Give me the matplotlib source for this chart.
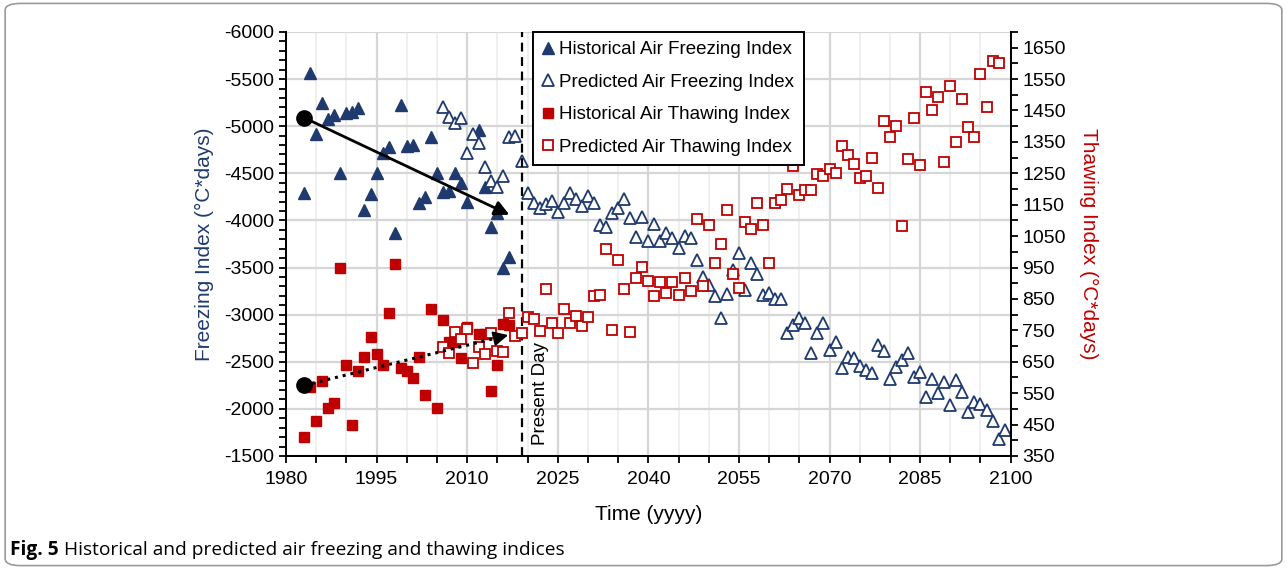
import matplotlib
matplotlib.use("Agg")
from matplotlib import pyplot as plt
from matplotlib.lines import Line2D
from matplotlib.patches import FancyBboxPatch
from matplotlib.ticker import MultipleLocator, FixedLocator

plt.rcParams['font.family'] = ['Liberation Sans', 'DejaVu Sans']
plt.rcParams['axes.unicode_minus'] = False

NAVY = '#1F3A6E'
RED = '#C00000'

# historical record (1983-2017)
hist_fi_years = [1983, 1984, 1985, 1986, 1987, 1988, 1989, 1990, 1991, 1992,
                 1993, 1994, 1995, 1996, 1997, 1998, 1999, 2000, 2001, 2002,
                 2003, 2004, 2005, 2006, 2007, 2008, 2009, 2010, 2012, 2013,
                 2014, 2015, 2016, 2017]
hist_fi = [-4289, -5568, -4918, -5250, -5074, -5119, -4500, -5137, -5154, -5190,
           -4111, -4281, -4507, -4713, -4777, -3864, -5222, -4790, -4801, -4183,
           -4253, -4883, -4500, -4302, -4310, -4500, -4401, -4200, -4960, -4359,
           -3934, -4076, -3493, -3616]

hist_ti_years = [1983, 1984, 1985, 1986, 1987, 1988, 1989, 1990, 1991, 1992,
                 1993, 1994, 1995, 1996, 1997, 1998, 1999, 2000, 2001, 2002,
                 2003, 2004, 2005, 2006, 2007, 2008, 2009, 2010, 2012, 2013,
                 2014, 2015, 2016, 2017]
hist_ti = [410, 571, 461, 588, 502, 518, 948, 639, 449, 620,
           664, 728, 674, 639, 804, 960, 629, 621, 598, 666,
           544, 817, 502, 783, 714, 712, 662, 760, 737, 737,
           557, 640, 770, 767]

# model predictions
pred_fi_years = list(range(2006, 2100))
pred_fi = [-5201, -5095, -5038, -5084, -4713, -4918, -4819, -4571, -4422, -4359,
           -4472, -4889, -4897, -4631, -4295, -4182, -4129, -4172, -4210, -4093,
           -4182, -4288, -4228, -4154, -4260, -4189, -3952, -3934, -4076, -4129,
           -4225, -4023, -3828, -4041, -3786, -3963, -3786, -3864, -3811, -3705,
           -3836, -3811, -3581, -3404, -3316, -3202, -2962, -3220, -3475, -3658,
           -3263, -3546, -3432, -3210, -3234, -3164, -3170, -2810, -2891, -2962,
           -2916, -2591, -2810, -2910, -2626, -2714, -2438, -2555, -2538, -2456,
           -2414, -2385, -2679, -2619, -2315, -2442, -2520, -2591, -2343, -2393,
           -2124, -2315, -2166, -2290, -2042, -2307, -2183, -1971, -2077, -2053,
           -1989, -1873, -1678, -1777]

pred_ti_years = list(range(2006, 2099))
pred_ti = [698, 679, 746, 722, 753, 647, 698, 674, 741, 685,
           682, 804, 732, 741, 793, 785, 749, 881, 774, 741,
           818, 773, 796, 764, 792, 860, 863, 1008, 751, 974,
           881, 746, 916, 953, 908, 860, 903, 870, 903, 863,
           918, 875, 1105, 892, 1086, 964, 1024, 1133, 929, 886,
           1096, 1073, 1157, 1086, 965, 1157, 1165, 1200, 1274, 1181,
           1197, 1197, 1247, 1243, 1264, 1250, 1337, 1308, 1280, 1234,
           1242, 1300, 1202, 1418, 1365, 1402, 1083, 1295, 1427, 1277,
           1508, 1452, 1492, 1287, 1528, 1349, 1487, 1397, 1365, 1566,
           1462, 1609, 1600]

present_day = 2019
fi_trend = [(1983, -5090), (2017, -4060)]
ti_trend = [(1983, 575), (2016.8, 735)]

fig = plt.figure(figsize=(12.87, 5.69), dpi=100)
ax = fig.add_axes([0.2222, 0.1986, 0.5631, 0.7452])
ax2 = ax.twinx()

# axes setup
ax.set_xlim(1980, 2100)
ax.set_ylim(-1500, -6000)
ax2.set_ylim(350, 1700)
ax.xaxis.set_major_locator(MultipleLocator(15))
ax.xaxis.set_minor_locator(MultipleLocator(5))
ax.yaxis.set_major_locator(MultipleLocator(500))
ax.yaxis.set_minor_locator(MultipleLocator(100))
ax2.yaxis.set_major_locator(FixedLocator(list(range(350, 1701, 100))))
ax2.yaxis.set_minor_locator(MultipleLocator(50))

ax.grid(which='major', axis='both', color='#D6D6D6', lw=1.6, zorder=0)
ax.grid(which='minor', axis='x', color='#ECECEC', lw=1.2, zorder=0)
ax.set_axisbelow(True)

for a in (ax, ax2):
    a.spines['top'].set_visible(False)
    for s in ('left', 'right', 'bottom'):
        a.spines[s].set_linewidth(1.4)
    a.tick_params(which='both', direction='out', length=5, width=1.3, labelsize=14)
ax.tick_params(axis='x', pad=6)

ax.set_xlabel('Time (yyyy)', fontsize=15, labelpad=12)
ax.set_ylabel('Freezing Index (°C*days)', fontsize=15, color=NAVY, labelpad=7)
ax2.set_ylabel('Thawing Index (°C*days)', fontsize=15, color=RED, rotation=270,
               va='bottom', labelpad=9)

# freezing index series
ax.plot(hist_fi_years, hist_fi, ls='none', marker='^', ms=8.5, color=NAVY,
        mec=NAVY, zorder=3)
ax.plot(pred_fi_years, pred_fi, ls='none', marker='^', ms=8.5, mfc='white',
        mec=NAVY, mew=1.3, zorder=3)

# thawing index series
ax2.plot(hist_ti_years, hist_ti, ls='none', marker='s', ms=7, color=RED,
         mec=RED, zorder=3)
ax2.plot(pred_ti_years, pred_ti, ls='none', marker='s', ms=7, mfc='white',
         mec=RED, mew=1.3, zorder=3)

# present day marker
ax.axvline(present_day, color='black', lw=1.6, ls=(0, (4, 2.5)), zorder=4)
ax.text(present_day + 3.2, -1620, 'Present Day', rotation=90, ha='center',
        va='bottom', fontsize=13.5, zorder=5)

# trend arrows
(x0, y0), (x1, y1) = fi_trend
ax2.annotate('', xy=(x1, 1700 - (y1 + 6000) * 0.3), xytext=(x0, 1700 - (y0 + 6000) * 0.3),
             arrowprops=dict(arrowstyle='-|>', color='black', lw=2,
                             mutation_scale=22, shrinkA=0, shrinkB=0), zorder=6)
ax2.plot([x0], [1700 - (y0 + 6000) * 0.3], 'o', color='black', ms=11, zorder=6)

(u0, v0), (u1, v1) = ti_trend
ax2.plot([u0, u1 - 1.2], [v0, v1 - 1.2 * (v1 - v0) / (u1 - u0)], color='black',
         lw=2.2, ls=(0, (1, 1.6)), zorder=6)
ax2.annotate('', xy=(u1, v1), xytext=(u1 - 2, v1 - 2 * (v1 - v0) / (u1 - u0)),
             arrowprops=dict(arrowstyle='-|>', color='black', lw=1.5,
                             mutation_scale=22, shrinkA=0, shrinkB=0), zorder=6)
ax2.plot([u0], [v0], 'o', color='black', ms=11, zorder=6)

# legend
handles = [
    Line2D([], [], ls='none', marker='^', ms=8, color=NAVY),
    Line2D([], [], ls='none', marker='^', ms=8, mfc='white', mec=NAVY, mew=1.3),
    Line2D([], [], ls='none', marker='s', ms=7, color=RED),
    Line2D([], [], ls='none', marker='s', ms=7, mfc='white', mec=RED, mew=1.3),
]
labels = ['Historical Air Freezing Index', 'Predicted Air Freezing Index',
          'Historical Air Thawing Index', 'Predicted Air Thawing Index']
leg = ax2.legend(handles, labels, loc='upper left', bbox_to_anchor=(0.341, 1.0),
                 fontsize=13.5, frameon=True, fancybox=False, framealpha=1,
                 edgecolor='black', handlelength=0.6, handletextpad=0.3,
                 labelspacing=0.82, borderpad=0.5, borderaxespad=0)
leg.get_frame().set_linewidth(1.4)
leg.set_zorder(10)

# border and caption
fig.patches.append(FancyBboxPatch((0.004, 0.006), 0.992, 0.988,
                                  boxstyle='round,pad=0,rounding_size=0.012',
                                  transform=fig.transFigure, fill=False,
                                  ec='#9A9A9A', lw=1.2))
cap1 = fig.text(0.008, 0.024, 'Fig. 5', fontsize=13.8, fontweight='bold',
                family='Open Sans', va='baseline')
fig.canvas.draw()
bb = cap1.get_window_extent()
fig.text(bb.x1 / fig.bbox.width + 0.004, 0.024,
         'Historical and predicted air freezing and thawing indices',
         fontsize=13.8, family='Open Sans', va='baseline')

fig.savefig('out.png', dpi=100)
